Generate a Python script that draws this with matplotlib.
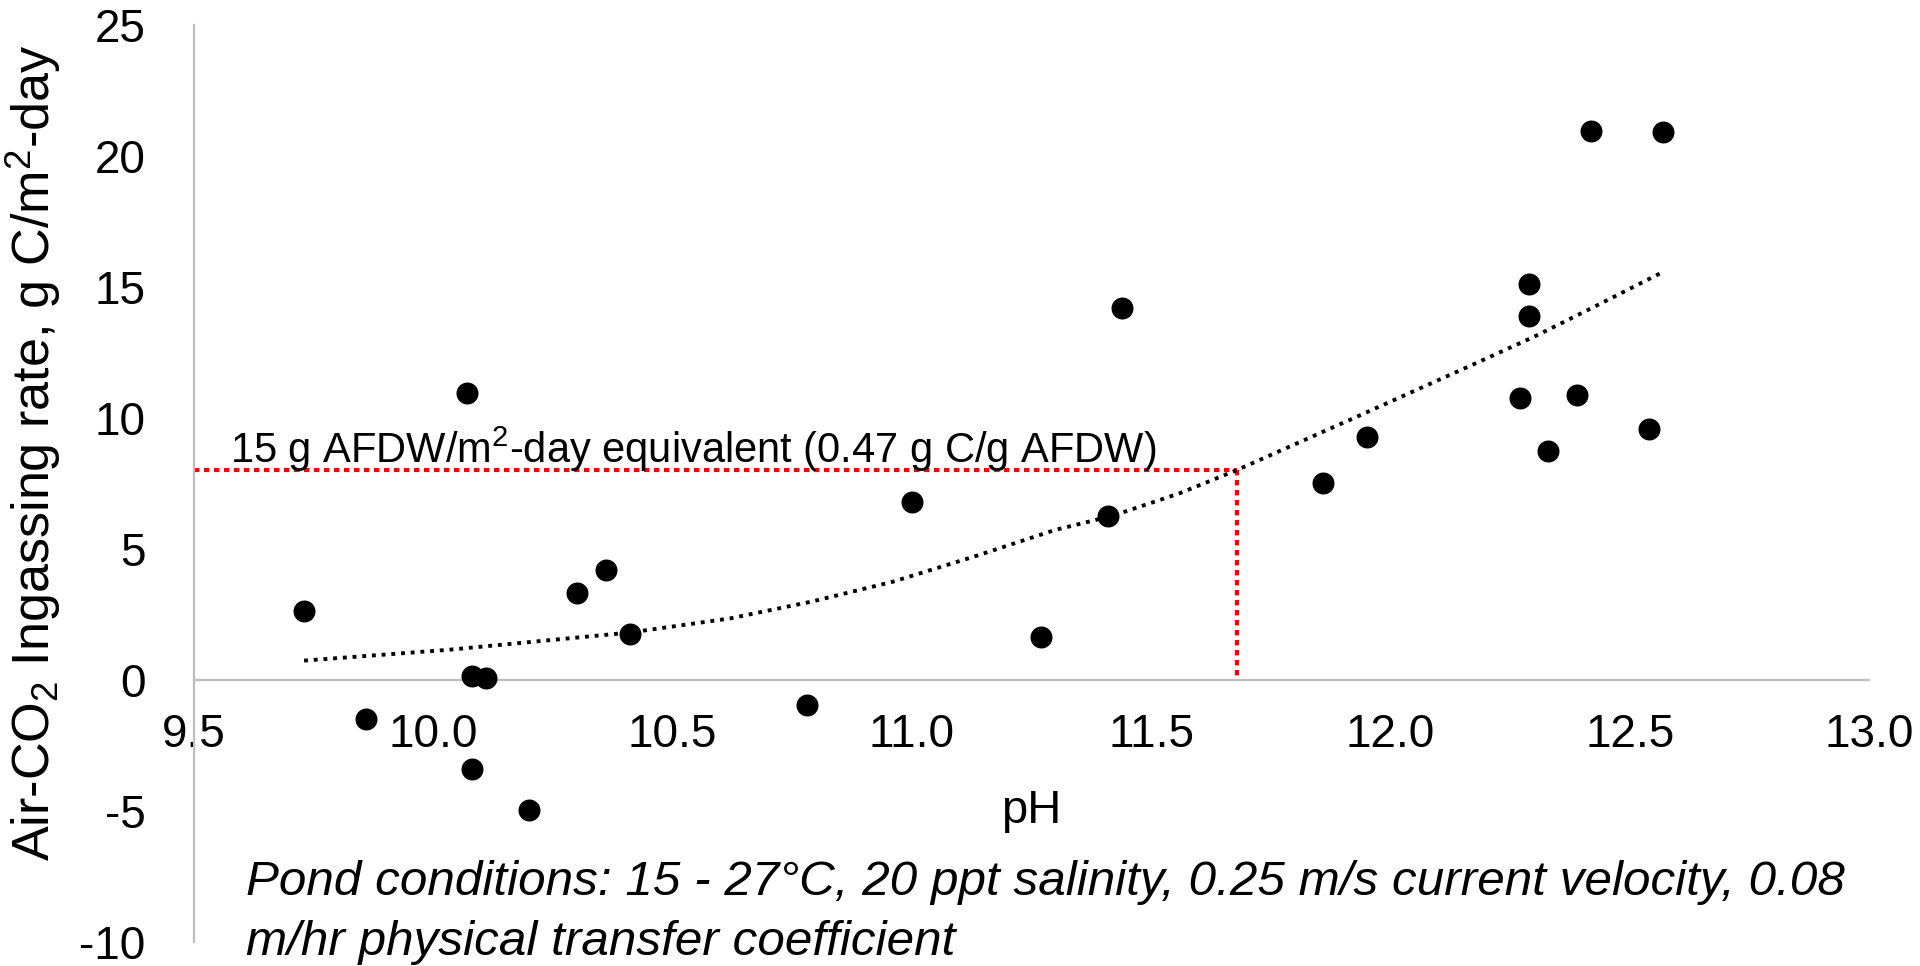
import matplotlib
matplotlib.use("Agg")
import matplotlib.pyplot as plt

plt.rcParams['font.family'] = ['Liberation Sans', 'DejaVu Sans']
plt.rcParams['mathtext.fontset'] = 'custom'
plt.rcParams['mathtext.rm'] = 'Liberation Sans'
plt.rcParams['mathtext.it'] = 'Liberation Sans:italic'

# measured ponds: pH vs air-CO2 ingassing rate (g C/m2-day)
ph = [9.73, 9.86, 10.07, 10.08, 10.11, 10.08, 10.20, 10.30, 10.36, 10.41,
      10.78, 11.00, 11.27, 11.41, 11.44, 11.86, 11.95, 12.27, 12.29, 12.29,
      12.33, 12.39, 12.42, 12.54, 12.57]
rate = [2.63, -1.50, 10.94, 0.15, 0.09, -3.41, -4.96, 3.31, 4.20, 1.74,
        -0.95, 6.78, 1.65, 6.27, 14.21, 7.51, 9.26, 10.75, 15.11, 13.89,
        8.74, 10.88, 20.97, 9.58, 20.93]

# dotted trendline
trend_ph = [9.73, 10.03, 10.41, 10.62, 10.79, 10.96, 11.13, 11.30, 11.42,
            11.56, 11.68, 11.93, 12.17, 12.30, 12.42, 12.57]
trend_rate = [0.74, 1.15, 1.81, 2.35, 2.99, 3.75, 4.71, 5.73, 6.27,
              7.13, 8.02, 10.05, 12.02, 13.10, 14.19, 15.58]

# 15 g AFDW/m2-day target
target_rate = 8.03
target_ph = 11.68

xticks = [9.5, 10.0, 10.5, 11.0, 11.5, 12.0, 12.5, 13.0]
xticklabels = ['9.5', '10.0', '10.5', '11.0', '11.5', '12.0', '12.5', '13.0']
yticks = [-10, -5, 0, 5, 10, 15, 20, 25]
yticklabels = ['-10', '-5', '0', '5', '10', '15', '20', '25']

fig = plt.figure(figsize=(19.2, 9.66), dpi=100)
ax = fig.add_axes([194 / 1920, 24 / 966, 1675 / 1920, 917 / 966])
ax.set_xlim(9.5, 13.0)
ax.set_ylim(-10, 25)

ax.plot([9.5, target_ph], [target_rate, target_rate], color='#ff0000', lw=3,
        linestyle=(0, (1.3, 1.1)), zorder=2)
ax.plot([target_ph, target_ph], [target_rate, 0.1], color='#ff0000', lw=3,
        linestyle=(0, (1.3, 1.1)), zorder=2)

ax.plot(trend_ph, trend_rate, color='black', lw=2.8, linestyle=(0, (1, 1.5)), zorder=3)
ax.scatter(ph, rate, s=220, color='black', zorder=4, clip_on=False)

for side in ['top', 'right']:
    ax.spines[side].set_visible(False)
ax.spines['bottom'].set_position(('data', 0))
for side in ['left', 'bottom']:
    ax.spines[side].set_color('#bdbdbd')
    ax.spines[side].set_linewidth(1.6)

ax.set_xticks(xticks)
ax.set_xticklabels(xticklabels)
ax.set_yticks(yticks)
ax.set_yticklabels(yticklabels)
ax.tick_params(axis='x', length=0, pad=24, labelsize=33)
ax.tick_params(axis='y', length=0, pad=35, labelsize=33)

ax.text(11.25, -5.0, 'pH', ha='center', va='center', fontsize=34)
ax.text(9.575, 8.3, '15 g AFDW/m$^{2}$-day equivalent (0.47 g C/g AFDW)',
        fontsize=30, va='baseline')

fig.text(33 / 1920, 1 - 453 / 966, 'Air-CO$_{2}$ Ingassing rate, g C/m$^{2}$-day',
         rotation=90, ha='center', va='center', fontsize=37.5)

fig.text(246 / 1920, 1 - 895 / 966,
         'Pond conditions: 15 - 27°C, 20 ppt salinity, 0.25 m/s current velocity, 0.08',
         style='italic', fontsize=35.6, va='baseline')
fig.text(246 / 1920, 1 - 955 / 966, 'm/hr physical transfer coefficient',
         style='italic', fontsize=35.6, va='baseline')

fig.savefig('out.png', dpi=100)
